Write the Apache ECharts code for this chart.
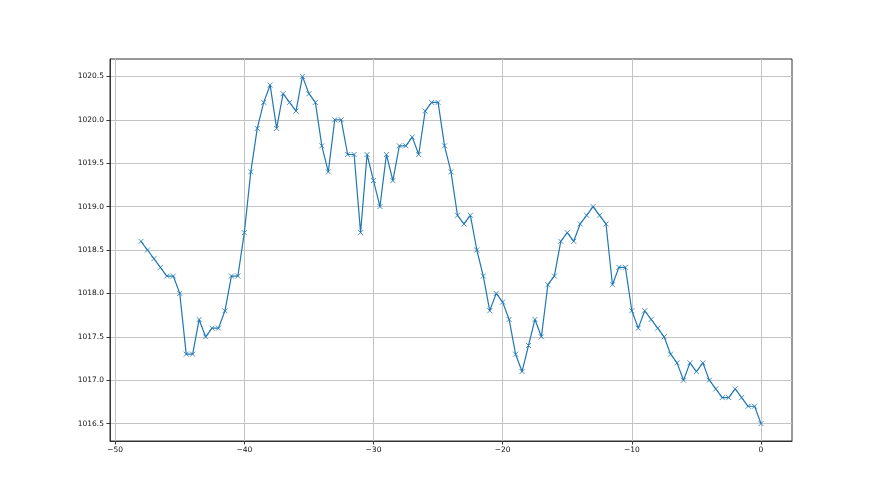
<!DOCTYPE html>
<html>
<head>
<meta charset="utf-8">
<script src="https://cdn.jsdelivr.net/npm/echarts@6/dist/echarts.min.js"></script>
<style>
html,body{margin:0;padding:0;background:#fff;}
#chart{width:880px;height:495px;}
</style>
</head>
<body>
<div id="chart"></div>
<script>
const xValues = [];
for (let i = 0; i < 97; i++) xValues.push(-48 + i * 0.5);

const pressure = [
  1018.6, 1018.5, 1018.4, 1018.3, 1018.2, 1018.2, 1018.0, 1017.3, 1017.3, 1017.7,
  1017.5, 1017.6, 1017.6, 1017.8, 1018.2, 1018.2, 1018.7, 1019.4, 1019.9, 1020.2,
  1020.4, 1019.9, 1020.3, 1020.2, 1020.1, 1020.5, 1020.3, 1020.2, 1019.7, 1019.4,
  1020.0, 1020.0, 1019.6, 1019.6, 1018.7, 1019.6, 1019.3, 1019.0, 1019.6, 1019.3,
  1019.7, 1019.7, 1019.8, 1019.6, 1020.1, 1020.2, 1020.2, 1019.7, 1019.4, 1018.9,
  1018.8, 1018.9, 1018.5, 1018.2, 1017.8, 1018.0, 1017.9, 1017.7, 1017.3, 1017.1,
  1017.4, 1017.7, 1017.5, 1018.1, 1018.2, 1018.6, 1018.7, 1018.6, 1018.8, 1018.9,
  1019.0, 1018.9, 1018.8, 1018.1, 1018.3, 1018.3, 1017.8, 1017.6, 1017.8, 1017.7,
  1017.6, 1017.5, 1017.3, 1017.2, 1017.0, 1017.2, 1017.1, 1017.2, 1017.0, 1016.9,
  1016.8, 1016.8, 1016.9, 1016.8, 1016.7, 1016.7, 1016.5
];

const xTicks = [-50, -40, -30, -20, -10, 0];
const yTicks = [1016.5, 1017.0, 1017.5, 1018.0, 1018.5, 1019.0, 1019.5, 1020.0, 1020.5];

const chart = echarts.init(document.getElementById('chart'), null, {renderer: 'canvas'});

const labelStyle = {
  fontFamily: 'DejaVu Sans',
  fontSize: 7.5,
  color: '#111'
};

chart.setOption({
  animation: false,
  backgroundColor: '#fff',
  grid: {
    left: 110, right: 88, top: 59, bottom: 54,
    show: true, borderColor: '#333', borderWidth: 1, backgroundColor: 'transparent'
  },
  xAxis: {
    type: 'value',
    min: -50.4, max: 2.4,
    axisLine: {show: true, onZero: false, lineStyle: {color: '#333', width: 1}},
    axisTick: {show: true, length: 3.5, inside: false, customValues: xTicks, lineStyle: {color: '#333', width: 1}},
    axisLabel: Object.assign({
      customValues: xTicks,
      margin: 5,
      formatter: v => String(v).replace('-', '\u2212')
    }, labelStyle),
    splitLine: {show: true, lineStyle: {color: '#c4c4c4', width: 1}}
  },
  yAxis: {
    type: 'value',
    min: 1016.3, max: 1020.7,
    axisLine: {show: true, onZero: false, lineStyle: {color: '#333', width: 1}},
    axisTick: {show: true, length: 3.5, inside: false, customValues: yTicks, lineStyle: {color: '#333', width: 1}},
    axisLabel: Object.assign({
      customValues: yTicks,
      margin: 6,
      formatter: v => v.toFixed(1)
    }, labelStyle),
    splitLine: {show: true, lineStyle: {color: '#c4c4c4', width: 1}}
  },
  series: [{
    type: 'line',
    data: xValues.map((x, i) => [x, pressure[i]]),
    symbol: 'path://M0,0L10,10M10,0L0,10',
    symbolSize: 5,
    showAllSymbol: true,
    itemStyle: {color: '#1f77b4', borderColor: '#1f77b4', borderWidth: 0.8},
    lineStyle: {color: '#1f77b4', width: 1.2},
    emphasis: {disabled: true}
  }]
});
</script>
</body>
</html>
